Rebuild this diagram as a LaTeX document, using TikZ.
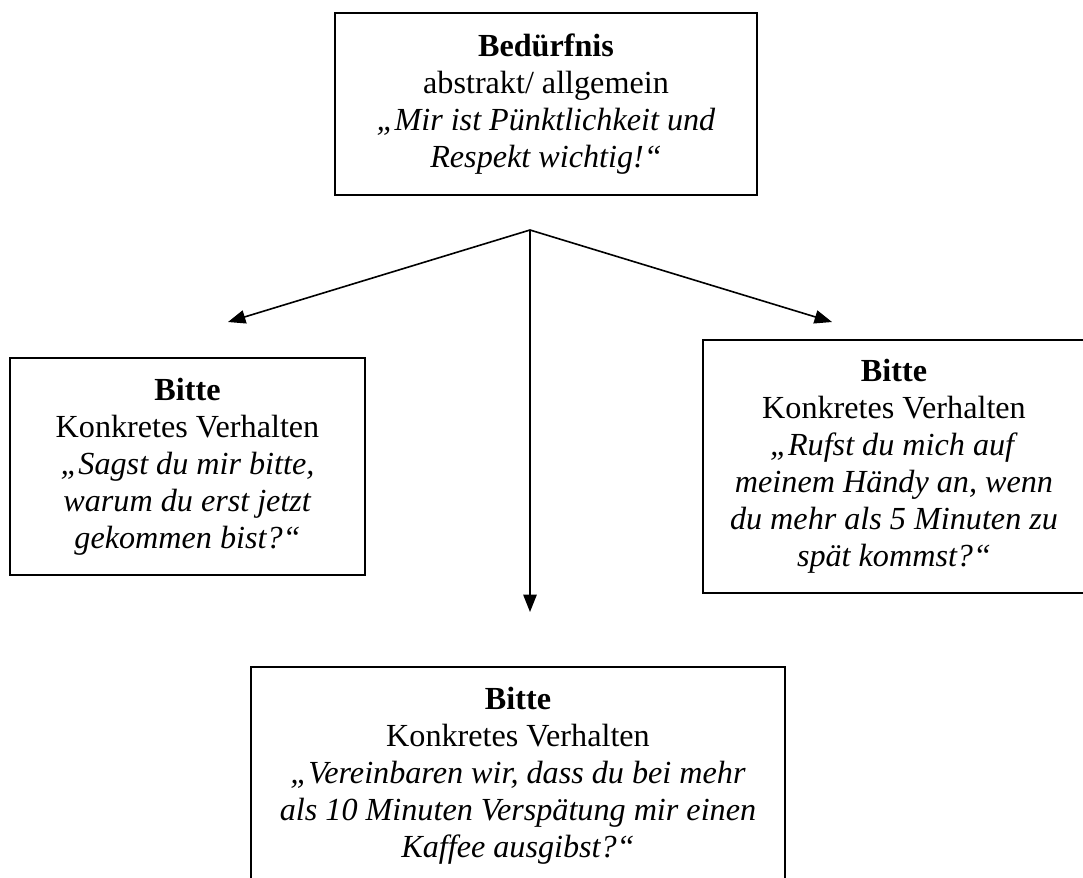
\documentclass[tikz,border=0pt]{standalone}
\usepackage{fontspec}
\setmainfont{Liberation Serif}
\usetikzlibrary{arrows.meta}
\tikzset{
  wishbox/.style={draw,line width=0.6pt,align=center,inner sep=0pt,outer sep=0pt,font=\fontsize{12}{13.8}\selectfont},
  wisharrow/.style={line width=0.6pt,-{Triangle[length=6.5pt,width=5pt]}}
}
\begin{document}
\begin{tikzpicture}[x=0.373pt,y=-0.373pt]
  \useasboundingbox (0,0) rectangle (1083,877);
  \clip (0,0) rectangle (1083,877);
  \node (beduerfnis) [wishbox,minimum width=157.4pt,minimum height=67.9pt] at (546,104) {\textbf{Bedürfnis}\\abstrakt/ allgemein\\\textit{„Mir ist Pünktlichkeit und}\\\textit{Respekt wichtig!“}};
  \node (bitteleft) [wishbox,minimum width=132.4pt,minimum height=80.9pt] at (187.5,466.5) {\textbf{Bitte}\\Konkretes Verhalten\\\textit{„Sagst du mir bitte,}\\\textit{warum du erst jetzt}\\\textit{gekommen bist?“}};
  \node (bitteright) [wishbox,minimum width=142.5pt,minimum height=94.4pt] at (894,466.5) {\textbf{Bitte}\\Konkretes Verhalten\\\textit{„Rufst du mich auf}\\\textit{meinem Händy an, wenn}\\\textit{du mehr als 5 Minuten zu}\\\textit{spät kommst?“}};
  \node (bittedown) [wishbox,minimum width=199.2pt,minimum height=80.9pt] at (518,775.5) {\textbf{Bitte}\\Konkretes Verhalten\\\textit{„Vereinbaren wir, dass du bei mehr}\\\textit{als 10 Minuten Verspätung mir einen}\\\textit{Kaffee ausgibst?“}};

  % arrow ends stop short of the boxes
  \coordinate (split) at (530,230);
  \coordinate (endleft) at (228,322);
  \coordinate (endright) at (832,322);
  \coordinate (enddown) at (530,612);
  \draw [wisharrow] (split) -- (endleft);
  \draw [wisharrow] (split) -- (endright);
  \draw [wisharrow] (split) -- (enddown);
\end{tikzpicture}
\end{document}
